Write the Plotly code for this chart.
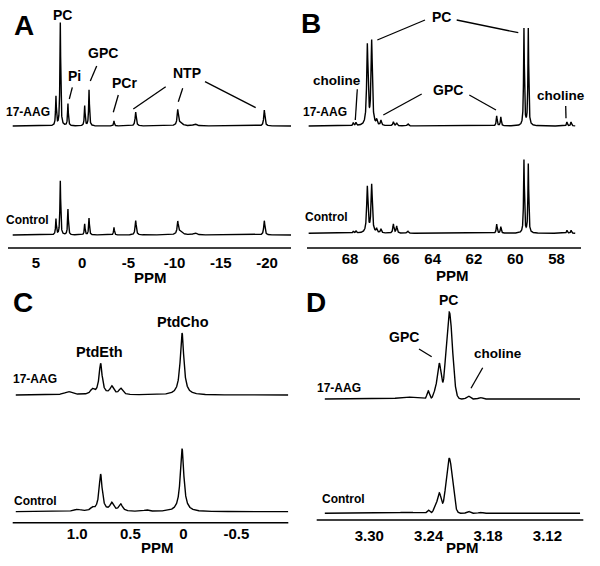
import numpy as np
import plotly.graph_objects as go

W, H = 600, 566
FONT = "Liberation Sans, Arial, Helvetica, sans-serif"

# ---------------- data: peak tables ----------------
# Panel A (31P): position (ppm), line width (ppm), height 17-AAG, height Control
A_ppm = [2.84, 2.37, 1.54, -0.27, -0.74, -3.44, -5.79, -10.34, -10.6, -12.2, -19.71]
A_width = [0.10, 0.10, 0.10, 0.10, 0.10, 0.10, 0.15, 0.15, 0.6, 0.4, 0.15]
A_aag = [29, 103, 22, 20, 36, 5, 14, 15, 3, 2, 16]
A_ctrl = [15.7, 54, 25.7, 11, 16.7, 7.7, 14.3, 12, 3.5, 2, 14.3]
A_ticks = [5, 0, -5, -10, -15, -20]
A_ticktext = ["5", "0", "-5", "-10", "-15", "-20"]

# Panel B (13C)
B_ppm = [67.84, 67.71, 67.16, 66.95, 66.71, 66.50, 65.90, 65.74, 65.20,
         60.90, 60.70, 59.58, 59.37, 57.50, 57.30]
B_width = [0.05, 0.05, 0.075, 0.075, 0.06, 0.06, 0.06, 0.06, 0.08,
           0.05, 0.05, 0.045, 0.045, 0.05, 0.05]
B_aag = [3, 3, 80, 84, 5, 5, 4, 3, 2, 10, 9, 97, 97, 4, 4]
B_ctrl = [2, 2, 46, 48, 4, 4, 9, 7, 2, 9, 6.6, 73, 69, 3, 3]
B_ticks = [68, 66, 64, 62, 60, 58]
B_ticktext = ["68", "66", "64", "62", "60", "58"]

# Panel C (31P lipids)
C_ppm = [1.085, 1.00, 0.858, 0.78, 0.675, 0.59, 0.35, 0.012]
C_width = [0.08, 0.08, 0.04, 0.035, 0.04, 0.04, 0.05, 0.04]
C_aag = [3.3, 0, 5, 31, 8, 6, 0, 62]
C_ctrl = [0, 2, 3, 37, 8, 7, 1.5, 63]
C_ticks = [1.0, 0.5, 0.0, -0.5]
C_ticktext = ["1.0", "0.5", "0", "-0.5"]

# Panel D (1H)
D_ppm = [3.262, 3.2404, 3.2336, 3.2293, 3.2192, 3.200, 3.188]
D_width = [0.02, 0.003, 0.004, 0.0045, 0.0075, 0.004, 0.004]
D_aag = [2, 8, 7, 35, 87, 3, 1.5]
D_ctrl = [1, 3.3, 5, 20, 55, 2, 1]
D_ticks = [3.30, 3.24, 3.18, 3.12]
D_ticktext = ["3.30", "3.24", "3.18", "3.12"]


def lorentz(x, pos, wid, hts):
    y = np.zeros_like(x)
    for p, w, h in zip(pos, wid, hts):
        y += h / (1.0 + (2.0 * (x - p) / w) ** 2)
    return y


def gauss(x, pos, wid, hts):
    y = np.zeros_like(x)
    for p, w, h in zip(pos, wid, hts):
        s = w / 2.3548
        y += h * np.exp(-0.5 * ((x - p) / s) ** 2)
    return y


def pxx(x):
    return x / W


def pxy(y):
    return 1 - y / H


# panel geometry (pixels): x-left, x-right, axis-line y, top y, tick-label centre y
panels = {
    "A": dict(xd=(8, 291), yd=(248, 10), lab=262, xr=(8.03, -22.6), off=(122, 13),
              spec=(7.52, -22.6), data=(A_ppm, A_width, A_aag, A_ctrl), shape=lorentz,
              ticks=(A_ticks, A_ticktext)),
    "B": dict(xd=(307, 581), yd=(248, 10), lab=257.5, xr=(70.08, 56.82), off=(122, 14.7),
              spec=(70.0, 57.1), data=(B_ppm, B_width, B_aag, B_ctrl), shape=lorentz,
              ticks=(B_ticks, B_ticktext)),
    "C": dict(xd=(12.7, 288.3), yd=(522.7, 290), lab=532.5, xr=(1.609, -0.99), off=(127.7, 11),
              spec=(1.58, -0.99), data=(C_ppm, C_width, C_aag, C_ctrl), shape=lorentz,
              ticks=(C_ticks, C_ticktext)),
    "D": dict(xd=(316.7, 583.3), yd=(520, 290), lab=535, xr=(3.3532, 3.0837), off=(121, 6.7),
              spec=(3.345, 3.087), data=(D_ppm, D_width, D_aag, D_ctrl), shape=gauss,
              ticks=(D_ticks, D_ticktext)),
}

LABEL_DROP = 10  # px between axis position and tick-label centre

fig = go.Figure()
layout = {}
for i, (name, p) in enumerate(panels.items()):
    suffix = "" if i == 0 else str(i + 1)
    xa, ya = "x" + suffix, "y" + suffix
    pos, wid, h_aag, h_ctrl = p["data"]
    x = np.linspace(p["spec"][0], p["spec"][1], 8000)
    for hts, off in ((h_aag, p["off"][0]), (h_ctrl, p["off"][1])):
        y = off + p["shape"](x, pos, wid, hts)
        fig.add_trace(go.Scatter(x=x, y=y, mode="lines", xaxis=xa, yaxis=ya,
                                 line=dict(color="black", width=1.4),
                                 showlegend=False, hoverinfo="skip"))
    top = p["yd"][0] - p["yd"][1]
    layout["xaxis" + suffix] = dict(
        domain=[pxx(p["xd"][0]), pxx(p["xd"][1])], range=list(p["xr"]),
        anchor="free", position=pxy(p["lab"] - LABEL_DROP),
        showline=False, showgrid=False, zeroline=False,
        tickvals=p["ticks"][0], ticktext=p["ticks"][1], ticks="", ticklen=0,
        tickfont=dict(family=FONT, size=15, color="black", weight="bold"))
    layout["yaxis" + suffix] = dict(
        domain=[pxy(p["yd"][0]), pxy(p["yd"][1])], range=[0, top], anchor=xa,
        visible=False, showgrid=False, zeroline=False)
    # axis base line
    fig.add_shape(type="line", xref="paper", yref="paper",
                  x0=pxx(p["xd"][0]), x1=pxx(p["xd"][1]),
                  y0=pxy(p["yd"][0]), y1=pxy(p["yd"][0]),
                  line=dict(color="black", width=1.6))

fig.update_layout(width=W, height=H, margin=dict(l=0, r=0, t=0, b=0),
                  paper_bgcolor="white", plot_bgcolor="white", **layout)

# ---------------- text labels ----------------
texts = [
    # (text, x px, y px, size)
    ("A", 24, 26, 28), ("B", 311, 24, 28), ("C", 22.5, 302, 28), ("D", 316, 302, 28),
    ("PPM", 150, 278, 15), ("PPM", 452, 275, 15), ("PPM", 158, 547, 15), ("PPM", 462, 547, 15),
    ("17-AAG", 28, 112, 12), ("Control", 27, 220, 12),
    ("17-AAG", 325, 112, 12), ("Control", 326, 217, 12),
    ("17-AAG", 35, 379, 12), ("Control", 35, 501, 12),
    ("17-AAG", 339, 388, 12), ("Control", 343, 499, 12),
    ("PC", 62, 15, 14), ("Pi", 74, 76, 14), ("GPC", 103, 53, 14), ("PCr", 124, 83, 14),
    ("NTP", 187, 73, 14),
    ("PC", 441, 17, 14), ("choline", 337, 80, 13.5), ("GPC", 448, 90, 14),
    ("choline", 561, 96, 13.5),
    ("PtdCho", 183, 322, 14.5), ("PtdEth", 99, 352, 14.5),
    ("PC", 448, 300, 14), ("GPC", 404, 337, 14), ("choline", 498, 353, 13.5),
]
for t, x, y, s in texts:
    fig.add_annotation(text=t, x=pxx(x), y=pxy(y), xref="paper", yref="paper",
                       xanchor="center", yanchor="middle", showarrow=False,
                       font=dict(family=FONT, size=s, color="black", weight="bold"))

# ---------------- leader lines ----------------
leaders = [
    (72.3, 87.3, 69.3, 99), (96.7, 66, 90.3, 81), (118.3, 95, 113.3, 112.3),
    (165.7, 86.7, 133.3, 109), (182.7, 88.3, 178.3, 101.7), (205, 81.7, 255.7, 107.7),
    (425, 20, 377.3, 40), (456.7, 20, 518.3, 32.7),
    (357.3, 89.3, 355.3, 120), (421.7, 94, 383.3, 115), (469.3, 95, 496, 110),
    (565.7, 106, 566, 118.3),
    (419, 349, 431.7, 356.7), (482.7, 367.7, 471, 388.3),
]
for x0, y0, x1, y1 in leaders:
    fig.add_shape(type="line", xref="paper", yref="paper",
                  x0=pxx(x0), y0=pxy(y0), x1=pxx(x1), y1=pxy(y1),
                  line=dict(color="black", width=1.3))

fig.write_html("out.html", config={"displayModeBar": False},
               post_script="document.body.style.margin='0';")
